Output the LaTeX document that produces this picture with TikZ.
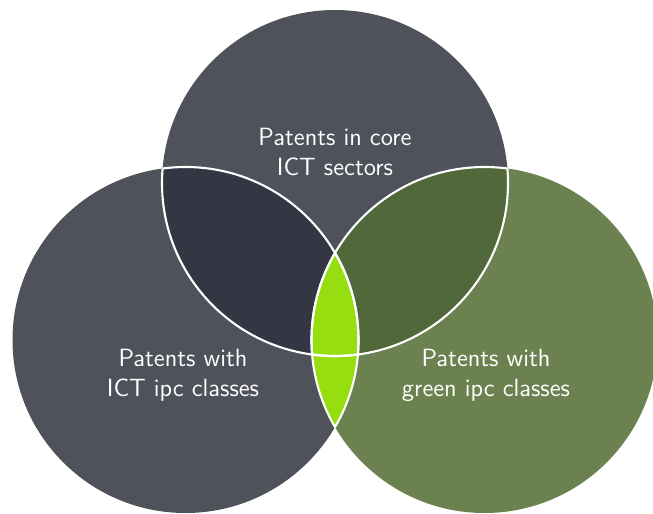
\documentclass[tikz,border=0pt]{standalone}
\definecolor{ictgray}{HTML}{4F525B}
\definecolor{ictdark}{HTML}{343743}
\definecolor{greenipc}{HTML}{6C8150}
\definecolor{greendark}{HTML}{51683A}
\definecolor{limeall}{HTML}{97DE10}

\begin{document}
\begin{tikzpicture}[x=0.02cm,y=-0.02cm,
    lbl/.style={text=white,align=center,font=\sffamily\fontsize{14.2}{17}\selectfont},
    rim/.style={draw=white,line width=1.2pt}]
    \useasboundingbox (0,0) rectangle (653,514);
    \coordinate (core) at (335,183);
    \coordinate (ict) at (185.5,340);
    \coordinate (green) at (484.5,340);

    \fill[ictgray] (core) circle (173);
    \fill[ictgray] (ict) circle (173);
    \fill[greenipc] (green) circle (173);

    % overlaps
    \begin{scope}
        \clip (core) circle (173);
        \fill[ictdark] (ict) circle (173);
        \fill[greendark] (green) circle (173);
    \end{scope}
    \begin{scope}
        \clip (ict) circle (173);
        \fill[limeall] (green) circle (173);
    \end{scope}

    % white rims of the overlaps
    \begin{scope}
        \clip (core) circle (173);
        \draw[rim] (ict) circle (173);
        \draw[rim] (green) circle (173);
    \end{scope}
    \begin{scope}
        \clip (ict) circle (173);
        \draw[rim] (core) circle (173);
        \draw[rim] (green) circle (173);
    \end{scope}
    \begin{scope}
        \clip (green) circle (173);
        \draw[rim] (core) circle (173);
        \draw[rim] (ict) circle (173);
    \end{scope}

    \node[lbl] (corelbl) at (335,152) {Patents in core\\ICT sectors};
    \node[lbl] (ictlbl) at (183,375) {Patents with\\ICT ipc classes};
    \node[lbl] (greenlbl) at (486,375) {Patents with\\green ipc classes};
\end{tikzpicture}
\end{document}
